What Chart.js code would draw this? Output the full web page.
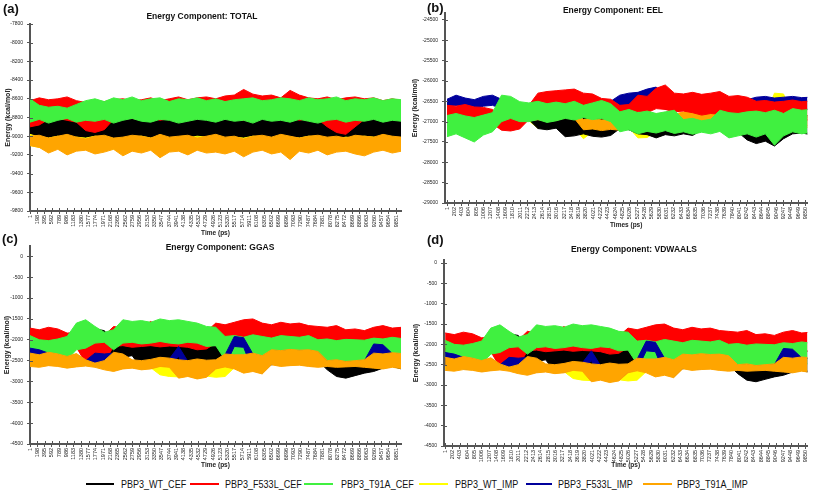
<!DOCTYPE html>
<html>
<head>
<meta charset="utf-8">
<script src="https://cdn.jsdelivr.net/npm/chart.js@4.4.0/dist/chart.umd.min.js"></script>
<style>
body { margin: 0; background: #fff; }
#page { position: relative; width: 813px; height: 496px; overflow: hidden; font-family: "Liberation Sans", Arial, sans-serif; color: #111; }
canvas { position: absolute; }
.tag { position: absolute; font-weight: bold; font-size: 13px; line-height: 13px; }
.ptitle { position: absolute; font-weight: bold; font-size: 8.5px; white-space: nowrap; transform: translate(-50%, -50%); }
.key { position: absolute; top: 478px; font-size: 11px; line-height: 12px; white-space: nowrap; transform: scaleX(0.82); transform-origin: left center; }
.swatch { position: absolute; top: 483px; height: 2px; }
</style>
</head>
<body>
<div id="page">
  <canvas id="chartTotal" width="405" height="240" style="left:0;top:0"></canvas>
  <canvas id="chartEel" width="408" height="232" style="left:405px;top:0"></canvas>
  <canvas id="chartGgas" width="405" height="236" style="left:0;top:236px"></canvas>
  <canvas id="chartVdw" width="408" height="236" style="left:405px;top:236px"></canvas>

  <div class="tag" style="left:3px;top:2px">(a)</div>
  <div class="tag" style="left:427px;top:1px">(b)</div>
  <div class="tag" style="left:2px;top:232px">(c)</div>
  <div class="tag" style="left:427px;top:233px">(d)</div>

  <div class="ptitle" style="left:202px;top:16px">Energy Component: TOTAL</div>
  <div class="ptitle" style="left:613px;top:10px">Energy Component: EEL</div>
  <div class="ptitle" style="left:220px;top:247px">Energy Component: GGAS</div>
  <div class="ptitle" style="left:634px;top:249px">Energy Component: VDWAALS</div>

  <div class="swatch" style="left:86px;width:28px;background:#000000"></div>
  <div class="key" style="left:121px">PBP3_WT_CEF</div>
  <div class="swatch" style="left:190px;width:29px;background:#ff0000"></div>
  <div class="key" style="left:225px">PBP3_F533L_CEF</div>
  <div class="swatch" style="left:304px;width:29px;background:#40f040"></div>
  <div class="key" style="left:341px">PBP3_T91A_CEF</div>
  <div class="swatch" style="left:419px;width:29px;background:#ffff00"></div>
  <div class="key" style="left:455px">PBP3_WT_IMP</div>
  <div class="swatch" style="left:526px;width:26px;background:#00009c"></div>
  <div class="key" style="left:558px">PBP3_F533L_IMP</div>
  <div class="swatch" style="left:643px;width:29px;background:#ffa500"></div>
  <div class="key" style="left:677px">PBP3_T91A_IMP</div>
</div>
<script>
// sample times (ps) shared by every trace
var times = [1,250,500,750,1000,1250,1500,1750,2000,2250,2500,2750,3000,3250,3500,3750,4000,4250,4500,4750,5000,5250,5500,5750,6000,6250,6500,6750,7000,7250,7500,7750,8000,8250,8500,8750,9000,9250,9500,9750,10000];

// axis tick labels
var timeLabelsA = [1,198,395,592,789,986,1183,1380,1577,1774,1971,2168,2365,2562,2759,2956,3153,3350,3547,3744,3941,4138,4335,4532,4729,4926,5123,5320,5517,5714,5911,6108,6305,6502,6699,6896,7093,7290,7487,7684,7881,8078,8275,8472,8669,8866,9063,9260,9457,9654,9851];
var timeLabelsB = [1,202,403,604,805,1006,1207,1408,1609,1810,2011,2212,2413,2614,2815,3016,3217,3418,3619,3820,4021,4222,4423,4624,4825,5026,5227,5428,5629,5830,6031,6232,6433,6634,6835,7036,7237,7438,7639,7840,8041,8242,8443,8644,8845,9046,9247,9448,9649,9850];
var totalTicks = [-7800,-8000,-8200,-8400,-8600,-8800,-9000,-9200,-9400,-9600,-9800];
var eelTicks = [-24500,-25000,-25500,-26000,-26500,-27000,-27500,-28000,-28500,-29000];
var ggasTicks = [0,-500,-1000,-1500,-2000,-2500,-3000,-3500,-4000,-4500];
var vdwTicks = [0,-500,-1000,-1500,-2000,-2500,-3000,-3500,-4000,-4500];

// (a) TOTAL - upper / lower edge of each noisy trace
var totalWtCefHi = [-8850,-8830,-8820,-8810,-8800,-8830,-8810,-8820,-8800,-8790,-8810,-8800,-8790,-8800,-8810,-8790,-8780,-8800,-8810,-8790,-8800,-8810,-8790,-8800,-8810,-8790,-8800,-8820,-8800,-8790,-8810,-8800,-8790,-8810,-8800,-8820,-8800,-8810,-8790,-8800,-8820];
var totalWtCefLo = [-9040,-9060,-9050,-9070,-9040,-9060,-9080,-9050,-9060,-9040,-9070,-9060,-9050,-9080,-9060,-9040,-9070,-9050,-9060,-9080,-9050,-9060,-9040,-9070,-9050,-9060,-9080,-9050,-9040,-9060,-9070,-9050,-9060,-9040,-9070,-9060,-9050,-9070,-9040,-9060,-9050];
var totalF533lCefHi = [-8620,-8590,-8610,-8600,-8580,-8620,-8640,-8620,-8630,-8610,-8600,-8620,-8610,-8590,-8620,-8600,-8580,-8610,-8590,-8580,-8600,-8570,-8560,-8500,-8550,-8570,-8560,-8590,-8510,-8560,-8590,-8600,-8580,-8610,-8590,-8580,-8600,-8590,-8620,-8600,-8620];
var totalF533lCefLo = [-8900,-8880,-8820,-8810,-8830,-8850,-8940,-8960,-8930,-8820,-8800,-8810,-8820,-8800,-8830,-8810,-8800,-8820,-8810,-8800,-8820,-8810,-8800,-8830,-8810,-8800,-8820,-8810,-8800,-8830,-8810,-8820,-8900,-8960,-8980,-8900,-8820,-8810,-8830,-8800,-8820];
var totalT91aCefHi = [-8600,-8670,-8690,-8680,-8700,-8660,-8620,-8600,-8630,-8590,-8610,-8580,-8620,-8600,-8590,-8630,-8600,-8610,-8590,-8620,-8600,-8630,-8610,-8600,-8590,-8620,-8610,-8590,-8600,-8620,-8590,-8610,-8600,-8580,-8620,-8600,-8610,-8590,-8620,-8600,-8610];
var totalT91aCefLo = [-8850,-8820,-8860,-8830,-8810,-8850,-8830,-8840,-8820,-8860,-8830,-8810,-8840,-8850,-8820,-8830,-8860,-8840,-8820,-8830,-8850,-8820,-8840,-8830,-8860,-8820,-8840,-8830,-8850,-8820,-8840,-8860,-8830,-8820,-8850,-8830,-8840,-8820,-8850,-8830,-8840];
var totalWtImpHi = [-8980,-9010,-9020,-9000,-9030,-9010,-9020,-9000,-9010,-9030,-9020,-9010,-9000,-9020,-9010,-9030,-9010,-9020,-9000,-9010,-9020,-9030,-9010,-9020,-9000,-9010,-9020,-9030,-9010,-9020,-9000,-9010,-9020,-9030,-9010,-9020,-9000,-9010,-9020,-9010,-9020];
var totalWtImpLo = [-9100,-9120,-9130,-9110,-9140,-9120,-9130,-9110,-9120,-9140,-9130,-9110,-9120,-9130,-9140,-9120,-9110,-9130,-9120,-9140,-9130,-9120,-9110,-9130,-9140,-9120,-9130,-9110,-9120,-9140,-9130,-9120,-9110,-9130,-9140,-9120,-9130,-9110,-9120,-9130,-9120];
var totalF533lImpHi = [-9020,-9030,-9040,-9020,-9010,-9030,-9050,-9020,-9010,-9040,-9030,-9010,-9020,-9040,-9000,-9030,-9020,-9010,-9040,-9020,-9000,-9030,-9020,-9050,-9020,-9010,-9030,-9000,-9020,-9040,-9020,-9010,-9030,-9020,-9040,-9010,-9020,-9030,-9000,-9020,-9030];
var totalF533lImpLo = [-9080,-9100,-9140,-9110,-9150,-9120,-9120,-9150,-9130,-9110,-9160,-9120,-9140,-9120,-9180,-9130,-9120,-9160,-9120,-9140,-9130,-9150,-9120,-9170,-9130,-9120,-9150,-9130,-9190,-9120,-9140,-9120,-9160,-9130,-9120,-9150,-9170,-9130,-9120,-9140,-9120];
var totalT91aImpHi = [-9000,-8990,-9020,-9000,-8980,-9010,-9030,-9000,-8990,-9020,-9010,-8990,-9000,-9020,-8980,-9010,-9000,-8990,-9020,-9000,-8980,-9010,-9000,-9030,-9000,-8990,-9010,-8980,-9000,-9020,-9000,-8990,-9010,-9000,-9020,-8990,-9000,-9010,-8980,-9000,-9010];
var totalT91aImpLo = [-9100,-9120,-9180,-9140,-9200,-9160,-9150,-9190,-9170,-9140,-9210,-9160,-9180,-9150,-9230,-9170,-9160,-9200,-9150,-9180,-9170,-9190,-9160,-9220,-9170,-9150,-9190,-9170,-9250,-9160,-9180,-9150,-9200,-9170,-9160,-9190,-9210,-9170,-9150,-9180,-9160];

// (b) EEL
var eelWtCefHi = [-26900,-26920,-26880,-26950,-26900,-26880,-26600,-26620,-26640,-26600,-26840,-26860,-26830,-26920,-26940,-26900,-26930,-26950,-26920,-26840,-26860,-26880,-26900,-26860,-26890,-26910,-26880,-26900,-26840,-26860,-26830,-26850,-26840,-26920,-26950,-26930,-26960,-26920,-26840,-26860,-26850];
var eelWtCefLo = [-27200,-27180,-27220,-27200,-27190,-27180,-26900,-26880,-26920,-26950,-27170,-27200,-27160,-27370,-27350,-27300,-27360,-27380,-27340,-27170,-27200,-27300,-27320,-27400,-27320,-27350,-27300,-27340,-27210,-27240,-27200,-27230,-27260,-27450,-27540,-27480,-27600,-27420,-27300,-27280,-27320];
var eelF533lCefHi = [-26600,-26620,-26580,-26640,-26650,-26700,-26840,-26860,-26820,-26600,-26300,-26260,-26240,-26220,-26200,-26300,-26320,-26430,-26450,-26600,-26580,-26350,-26380,-26180,-26100,-26300,-26320,-26280,-26330,-26300,-26260,-26380,-26360,-26400,-26500,-26480,-26520,-26500,-26470,-26510,-26490];
var eelF533lCefLo = [-26980,-27000,-26950,-27020,-27000,-27050,-27210,-27230,-27180,-26950,-26760,-26720,-26700,-26560,-26600,-26760,-26740,-26840,-26860,-26840,-26860,-26760,-26780,-26680,-26700,-26760,-26740,-26780,-26840,-26800,-26820,-26840,-26860,-26820,-26920,-26900,-26940,-26960,-26940,-26980,-26950];
var eelT91aCefHi = [-26850,-26800,-26860,-26900,-26840,-26780,-26350,-26380,-26510,-26540,-26500,-26560,-26520,-26560,-26500,-26600,-26540,-26480,-26560,-26760,-26700,-26780,-26740,-26800,-26760,-26720,-26950,-26920,-26980,-26940,-26720,-26780,-26800,-26760,-26740,-26780,-26720,-26800,-26680,-26720,-26700];
var eelT91aCefLo = [-27370,-27300,-27400,-27500,-27330,-27250,-27000,-26920,-27000,-27000,-26950,-27020,-26980,-26920,-26960,-26900,-26950,-26920,-27000,-27250,-27200,-27300,-27240,-27280,-27220,-27290,-27250,-27310,-27260,-27300,-27240,-27400,-27350,-27300,-27380,-27300,-27580,-27350,-27250,-27300,-27260];
var eelWtImpHi = [-26900,-26880,-26920,-26900,-26910,-26890,-26700,-26720,-26700,-26900,-26910,-26900,-26890,-26920,-26900,-27000,-26900,-26920,-26900,-26880,-26900,-27000,-27020,-26900,-26920,-26900,-26880,-26900,-26910,-26890,-26900,-26920,-26900,-26880,-26900,-26900,-26300,-26320,-26900,-26880,-26900];
var eelWtImpLo = [-27150,-27130,-27170,-27150,-27160,-27140,-26950,-26960,-26950,-26980,-27160,-27150,-27140,-27170,-27150,-27420,-27250,-27270,-27250,-27160,-27150,-27400,-27390,-27250,-27270,-27250,-27230,-27250,-27160,-27180,-27150,-27170,-27200,-27250,-27300,-27280,-26800,-26820,-27150,-27130,-27150];
var eelF533lImpHi = [-26450,-26350,-26420,-26460,-26380,-26350,-26450,-26600,-26620,-26580,-26600,-26620,-26580,-26600,-26610,-26590,-26600,-26620,-26500,-26350,-26300,-26280,-26200,-26150,-26400,-26450,-26450,-26480,-26440,-26460,-26470,-26450,-26480,-26460,-26400,-26380,-26420,-26400,-26380,-26410,-26400];
var eelF533lImpLo = [-26650,-26600,-26660,-26700,-26620,-26600,-26680,-26900,-26920,-26880,-26900,-26920,-26880,-26900,-26910,-26890,-26900,-26920,-26850,-26650,-26600,-26580,-26520,-26500,-26700,-26720,-26700,-26680,-26720,-26700,-26690,-26710,-26700,-26680,-26700,-26720,-26680,-26700,-26720,-26690,-26700];
var eelT91aImpHi = [-26900,-26920,-26880,-26950,-26900,-26880,-26600,-26620,-26640,-26850,-26860,-26840,-26850,-26700,-26720,-26950,-26920,-26960,-26940,-26950,-26800,-26820,-26790,-26810,-26800,-26820,-26760,-26740,-26780,-26760,-26850,-26860,-26840,-26850,-26860,-26840,-26850,-26860,-26840,-26850,-26860];
var eelT91aImpLo = [-27200,-27180,-27220,-27200,-27190,-27180,-26900,-26880,-26920,-26980,-26950,-26990,-26970,-26900,-26920,-27200,-27180,-27220,-27190,-27210,-27150,-27170,-27140,-27160,-27150,-27170,-27000,-26980,-27020,-26990,-27100,-27120,-27090,-27110,-27100,-27120,-27090,-27110,-27100,-27120,-27090];

// (c) GGAS  -- the (d) VDWAALS traces read the same at this size
var ggasWtCefHi = [-2100,-2120,-2080,-2100,-2000,-1760,-1800,-1740,-1780,-2080,-2100,-2060,-2080,-2100,-2060,-2120,-2080,-2100,-2060,-2080,-2160,-2140,-2180,-2160,-2180,-2140,-2160,-2200,-2150,-2080,-2100,-2060,-2160,-2180,-2150,-2200,-2160,-2170,-2160,-2140,-2180];
var ggasWtCefLo = [-2480,-2500,-2460,-2480,-2400,-2160,-2200,-2140,-2180,-2400,-2420,-2380,-2680,-2640,-2700,-2660,-2680,-2640,-2700,-2660,-2560,-2540,-2580,-2600,-2580,-2620,-2600,-2560,-2600,-2480,-2460,-2500,-2720,-2880,-2920,-2860,-2800,-2760,-2680,-2640,-2700];
var ggasF533lCefHi = [-1720,-1760,-1700,-1740,-1840,-1820,-1920,-1960,-1900,-1680,-1720,-1660,-1700,-1560,-1720,-1680,-1740,-1700,-1760,-1800,-1600,-1640,-1580,-1520,-1500,-1600,-1640,-1580,-1620,-1600,-1660,-1680,-1700,-1660,-1760,-1740,-1780,-1700,-1660,-1720,-1700];
var ggasF533lCefLo = [-2160,-2140,-2180,-2150,-2200,-2180,-2560,-2500,-2540,-2160,-2140,-2180,-2160,-2140,-2170,-2150,-2160,-2180,-2240,-2220,-2080,-2100,-2060,-2000,-2040,-2080,-2060,-2100,-2080,-2060,-2100,-2160,-2140,-2180,-2160,-2180,-2150,-2160,-2140,-2180,-2160];
var ggasT91aCefHi = [-1900,-2000,-2020,-1980,-1920,-1600,-1520,-1680,-1820,-1760,-1520,-1560,-1540,-1580,-1500,-1540,-1520,-1560,-1600,-1680,-1700,-1920,-1900,-1940,-1880,-1920,-1960,-1900,-1920,-1940,-1900,-2000,-1980,-2020,-1990,-2000,-2010,-1960,-1980,-1940,-1970];
var ggasT91aCefLo = [-2300,-2560,-2600,-2560,-2480,-2240,-2200,-2080,-2060,-2240,-2080,-2060,-2100,-2080,-2040,-2080,-2100,-2060,-2080,-2160,-2140,-2480,-2440,-2500,-2460,-2480,-2520,-2460,-2480,-2500,-2460,-2520,-2500,-2540,-2510,-2520,-2530,-2480,-2500,-2460,-2490];
var ggasWtImpHi = [-2350,-2390,-2330,-2370,-2430,-2360,-2510,-2590,-2530,-2330,-2370,-2510,-2530,-2500,-2480,-2500,-2510,-2530,-2490,-2520,-2510,-2370,-2390,-2390,-2350,-2410,-2270,-2290,-2260,-2280,-2270,-2310,-2530,-2510,-2550,-2530,-2510,-2350,-2370,-2340,-2360];
var ggasWtImpLo = [-2610,-2630,-2590,-2610,-2650,-2620,-2600,-2630,-2690,-2730,-2670,-2650,-2690,-2670,-2840,-2880,-2890,-2850,-2910,-2870,-2900,-2880,-2670,-2770,-2730,-2790,-2570,-2610,-2590,-2580,-2610,-2630,-2610,-2630,-2620,-2610,-2630,-2650,-2670,-2630,-2660];
var ggasF533lImpHi = [-2200,-2240,-2320,-2360,-2420,-2350,-2500,-2320,-2340,-2320,-2360,-2500,-2520,-2490,-2440,-2460,-2160,-2520,-2480,-2510,-2500,-2360,-1920,-1950,-2340,-2400,-2260,-2280,-2250,-2270,-2260,-2300,-2520,-2500,-2540,-2520,-2500,-2100,-2120,-2330,-2350];
var ggasF533lImpLo = [-2500,-2520,-2600,-2620,-2660,-2630,-2610,-2540,-2560,-2740,-2680,-2660,-2700,-2680,-2620,-2640,-2400,-2860,-2920,-2880,-2680,-2630,-2160,-2180,-2740,-2800,-2580,-2620,-2600,-2590,-2620,-2640,-2620,-2640,-2630,-2620,-2640,-2350,-2380,-2640,-2670];
var ggasT91aImpHi = [-2320,-2360,-2300,-2340,-2400,-2330,-2480,-2560,-2500,-2300,-2340,-2480,-2500,-2470,-2420,-2440,-2480,-2500,-2460,-2490,-2480,-2340,-2360,-2360,-2320,-2380,-2240,-2260,-2230,-2250,-2240,-2280,-2500,-2480,-2520,-2500,-2480,-2320,-2340,-2310,-2330];
var ggasT91aImpLo = [-2640,-2660,-2620,-2640,-2680,-2650,-2630,-2660,-2720,-2760,-2700,-2680,-2720,-2700,-2640,-2660,-2920,-2880,-2940,-2900,-2700,-2650,-2700,-2800,-2760,-2820,-2600,-2640,-2620,-2610,-2640,-2660,-2640,-2660,-2650,-2640,-2660,-2680,-2700,-2660,-2690];

var colors = {
    wtCef: '#000000',
    f533lCef: '#ff0000',
    t91aCef: '#40f040',
    wtImp: '#ffff00',
    f533lImp: '#00009c',
    t91aImp: '#ffa500'
};

Chart.defaults.font.family = '"Liberation Sans", Arial, sans-serif';

function points(values) {
    return times.map(function (t, i) {
        return {x: t, y: values[i]};
    });
}

// one trace = its top edge filled down to its bottom edge
// order: 0 is painted last (on top)
function band(hi, lo, color, order) {
    return [
        {data: points(hi), borderColor: color, backgroundColor: color, borderWidth: 1, pointRadius: 0, tension: 0, fill: '+1', order: order},
        {data: points(lo), borderColor: color, backgroundColor: color, borderWidth: 1, pointRadius: 0, tension: 0, fill: false, order: order}
    ];
}

// Excel style cross tick marks: the inner half
var crossTicks = {
    id: 'crossTicks',
    afterDraw: function (chart) {
        var ctx = chart.ctx, area = chart.chartArea, x = chart.scales.x, y = chart.scales.y;
        ctx.save();
        ctx.strokeStyle = '#555';
        ctx.lineWidth = 1;
        ctx.beginPath();
        x.ticks.forEach(function (t) {
            var px = Math.round(x.getPixelForValue(t.value)) + 0.5;
            ctx.moveTo(px, area.bottom);
            ctx.lineTo(px, area.bottom - 3);
        });
        y.ticks.forEach(function (t) {
            var py = Math.round(y.getPixelForValue(t.value)) + 0.5;
            ctx.moveTo(area.left, py);
            ctx.lineTo(area.left + 3, py);
        });
        ctx.stroke();
        ctx.restore();
    }
};

function drawPanel(canvasId, o) {
    return new Chart(document.getElementById(canvasId), {
        type: 'line',
        data: {datasets: o.datasets},
        options: {
            responsive: false,
            animation: false,
            parsing: false,
            layout: {padding: o.padding},
            plugins: {
                legend: {display: false},
                tooltip: {enabled: false},
                filler: {propagate: false}
            },
            scales: {
                x: {
                    type: 'linear',
                    min: o.xMin,
                    max: o.xMax,
                    afterBuildTicks: function (s) {
                        s.ticks = o.xTicks.map(function (v) { return {value: v}; });
                    },
                    afterFit: function (s) { s.height = o.xHeight; },
                    ticks: {
                        autoSkip: false, minRotation: 90, maxRotation: 90, padding: 1, color: '#222',
                        font: {size: 5.5},
                        callback: function (v) { return String(v); }
                    },
                    grid: {drawOnChartArea: false, tickLength: 3, color: '#555'},
                    border: {color: '#555', width: 2},
                    title: {display: true, text: o.xTitle, color: '#222', font: {size: 6.5, weight: 'bold'}, padding: {top: 0, bottom: 3}}
                },
                y: {
                    min: o.yMin,
                    max: o.yMax,
                    afterBuildTicks: function (s) {
                        s.ticks = o.yTicks.map(function (v) { return {value: v}; });
                    },
                    afterFit: function (s) { s.width = o.yWidth; },
                    ticks: {
                        padding: 4, color: '#222', font: {size: 5},
                        callback: function (v) { return String(v); }
                    },
                    grid: {drawOnChartArea: false, tickLength: 3, color: '#555'},
                    border: {color: '#555', width: 2},
                    title: {display: true, text: 'Energy (kcal/mol)', color: '#222', font: {size: 7, weight: 'bold'}, padding: {top: o.yTitlePad, bottom: 0}}
                }
            }
        },
        plugins: [crossTicks]
    });
}

drawPanel('chartTotal', {
    datasets: [].concat(
        band(totalT91aImpHi, totalT91aImpLo, colors.t91aImp, 0),
        band(totalF533lImpHi, totalF533lImpLo, colors.f533lImp, 1),
        band(totalWtImpHi, totalWtImpLo, colors.wtImp, 2),
        band(totalT91aCefHi, totalT91aCefLo, colors.t91aCef, 3),
        band(totalF533lCefHi, totalF533lCefLo, colors.f533lCef, 4),
        band(totalWtCefHi, totalWtCefLo, colors.wtCef, 5)
    ),
    padding: {top: 24, right: 4, left: 0, bottom: 0},
    xMin: 1, xMax: 9985, xTicks: timeLabelsA, xHeight: 29, xTitle: 'Time (ps)',
    yMin: -9800, yMax: -7800, yTicks: totalTicks, yWidth: 30, yTitlePad: 4
});

drawPanel('chartEel', {
    datasets: [].concat(
        band(eelT91aCefHi, eelT91aCefLo, colors.t91aCef, 0),
        band(eelF533lCefHi, eelF533lCefLo, colors.f533lCef, 1),
        band(eelF533lImpHi, eelF533lImpLo, colors.f533lImp, 2),
        band(eelT91aImpHi, eelT91aImpLo, colors.t91aImp, 3),
        band(eelWtCefHi, eelWtCefLo, colors.wtCef, 4),
        band(eelWtImpHi, eelWtImpLo, colors.wtImp, 5)
    ),
    padding: {top: 13, right: 4, left: 0, bottom: 0},
    xMin: -54, xMax: 9905, xTicks: timeLabelsB, xHeight: 29, xTitle: 'Times (ps)',
    yMin: -29000, yMax: -24330, yTicks: eelTicks, yWidth: 40, yTitlePad: 6
});

drawPanel('chartGgas', {
    datasets: [].concat(
        band(ggasT91aImpHi, ggasT91aImpLo, colors.t91aImp, 0),
        band(ggasF533lImpHi, ggasF533lImpLo, colors.f533lImp, 1),
        band(ggasWtImpHi, ggasWtImpLo, colors.wtImp, 2),
        band(ggasT91aCefHi, ggasT91aCefLo, colors.t91aCef, 3),
        band(ggasF533lCefHi, ggasF533lCefLo, colors.f533lCef, 4),
        band(ggasWtCefHi, ggasWtCefLo, colors.wtCef, 5)
    ),
    padding: {top: 10, right: 4, left: 0, bottom: 0},
    xMin: 1, xMax: 9985, xTicks: timeLabelsA, xHeight: 28, xTitle: 'Time (ps)',
    yMin: -4500, yMax: 250, yTicks: ggasTicks, yWidth: 30, yTitlePad: 3
});

drawPanel('chartVdw', {
    datasets: [].concat(
        band(ggasT91aImpHi, ggasT91aImpLo, colors.t91aImp, 0),
        band(ggasF533lImpHi, ggasF533lImpLo, colors.f533lImp, 1),
        band(ggasWtImpHi, ggasWtImpLo, colors.wtImp, 2),
        band(ggasT91aCefHi, ggasT91aCefLo, colors.t91aCef, 3),
        band(ggasF533lCefHi, ggasF533lCefLo, colors.f533lCef, 4),
        band(ggasWtCefHi, ggasWtCefLo, colors.wtCef, 5)
    ),
    padding: {top: 24, right: 5, left: 0, bottom: 0},
    xMin: -30, xMax: 9905, xTicks: timeLabelsB, xHeight: 26, xTitle: 'Time (ps)',
    yMin: -4500, yMax: 75, yTicks: vdwTicks, yWidth: 39, yTitlePad: 7
});
</script>
</body>
</html>
